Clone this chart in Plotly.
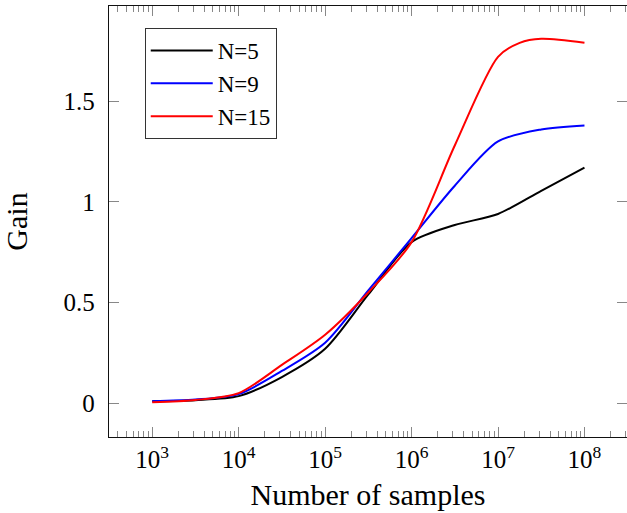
import plotly.graph_objects as go

# Data
samples = [1e3, 3.16e3, 1e4, 3.16e4, 1e5, 3.16e5, 1e6, 3.16e6, 1e7, 3.16e7, 1e8]
gain_n5 = [0.010, 0.015, 0.035, 0.13, 0.27, 0.54, 0.80, 0.885, 0.94, 1.055, 1.17]
gain_n9 = [0.010, 0.018, 0.045, 0.16, 0.30, 0.56, 0.82, 1.08, 1.30, 1.36, 1.38]
samples_n15 = [1e3, 3.16e3, 1e4, 3.16e4, 1e5, 3.16e5, 1e6, 3.16e6, 1e7, 1.78e7, 3.16e7, 1e8]
gain_n15 = [0.005, 0.016, 0.050, 0.19, 0.34, 0.55, 0.80, 1.28, 1.72, 1.79, 1.81, 1.79]
series_names = ["N=5", "N=9", "N=15"]
series_colors = ["#000000", "#0000ff", "#ff0000"]

x_tickvals = [1e3, 1e4, 1e5, 1e6, 1e7, 1e8]
x_ticktext = ["10<sup>3</sup>", "10<sup>4</sup>", "10<sup>5</sup>",
              "10<sup>6</sup>", "10<sup>7</sup>", "10<sup>8</sup>"]
y_tickvals = [0, 0.5, 1, 1.5]
y_ticktext = ["0", "0.5", "1", "1.5"]

minor_vals = [m * 10 ** k for k in range(2, 9) for m in range(2, 10)
              if 10 ** 2.5 <= m * 10 ** k <= 10 ** 8.5]

FONT = "Liberation Serif, Times New Roman, serif"

fig = go.Figure()
for name, xs, ys, col in zip(series_names, [samples, samples, samples_n15],
                             [gain_n5, gain_n9, gain_n15], series_colors):
    fig.add_trace(go.Scatter(x=xs, y=ys, name=name, mode="lines",
                             line=dict(color=col, width=2, shape="spline", smoothing=0.8)))

fig.update_layout(
    width=627, height=513,
    margin=dict(l=109, r=0, t=6, b=76),
    paper_bgcolor="white", plot_bgcolor="white",
    font=dict(family=FONT, size=25, color="black"),
    showlegend=True,
    legend=dict(x=0.069, y=0.949, xanchor="left", yanchor="top",
                bordercolor="#333", borderwidth=1, bgcolor="white",
                font=dict(family=FONT, size=23, color="black"), tracegroupgap=0,
                itemwidth=62),
)
fig.update_xaxes(
    type="log", range=[2.5, 8.492],
    tickmode="array", tickvals=x_tickvals, ticktext=x_ticktext,
    ticks="inside", ticklen=10, tickcolor="#888", tickwidth=1,
    minor=dict(tickmode="array", tickvals=minor_vals, ticks="inside",
               ticklen=6, tickcolor="#888", tickwidth=1, showgrid=False),
    showline=True, linecolor="#111", linewidth=1.3, mirror="ticks",
    showgrid=False, zeroline=False,
    title=dict(text="Number of samples", standoff=11),
    tickfont=dict(family=FONT, size=25),
)
fig.update_yaxes(
    range=[-0.168, 1.973],
    tickmode="array", tickvals=y_tickvals, ticktext=y_ticktext,
    ticks="inside", ticklen=10, tickcolor="#888", tickwidth=1,
    showline=True, linecolor="#111", linewidth=1.3, mirror="ticks",
    showgrid=False, zeroline=False, ticklabelstandoff=8,
    title=dict(text="Gain", standoff=36),
    tickfont=dict(family=FONT, size=25),
)

fig.write_html("out.html")
